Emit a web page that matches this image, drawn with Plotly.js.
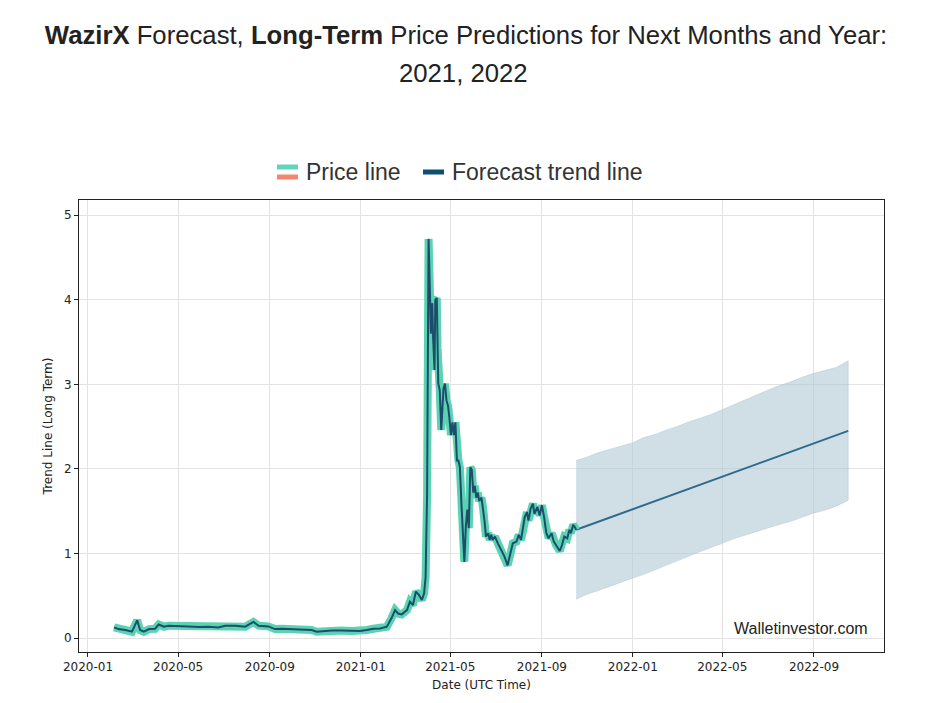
<!DOCTYPE html>
<html>
<head>
<meta charset="utf-8">
<script src="https://cdn.plot.ly/plotly-3.0.1.min.js"></script>
<style>
html,body{margin:0;padding:0;background:#fff;}
#chart{width:932px;height:703px;}
</style>
</head>
<body>
<div id="chart"></div>
<script>
// ---- Data ----
const priceDates = [
"2020-02-05","2020-02-11","2020-02-20","2020-02-29","2020-03-04","2020-03-07","2020-03-11","2020-03-16","2020-03-23","2020-03-31",
"2020-04-05","2020-04-12","2020-04-18","2020-05-02","2020-05-15","2020-05-29","2020-06-11","2020-06-24","2020-07-03","2020-07-17",
"2020-07-30","2020-08-10","2020-08-17","2020-08-30","2020-09-08","2020-09-17","2020-10-01","2020-10-14","2020-10-27","2020-11-03",
"2020-11-23","2020-12-06","2020-12-20","2020-12-31",
"2021-01-09","2021-01-18","2021-01-27","2021-02-05","2021-02-11","2021-02-16","2021-02-20","2021-02-25","2021-03-04","2021-03-08",
"2021-03-12","2021-03-16","2021-03-20","2021-03-24","2021-03-27","2021-03-29","2021-03-31","2021-04-02","2021-04-04","2021-04-05",
"2021-04-07","2021-04-08","2021-04-10","2021-04-11","2021-04-13","2021-04-14","2021-04-15","2021-04-17","2021-04-19","2021-04-22",
"2021-04-24","2021-04-26","2021-04-28","2021-04-30","2021-05-02","2021-05-04","2021-05-06","2021-05-08","2021-05-10","2021-05-12",
"2021-05-14","2021-05-16","2021-05-18","2021-05-20","2021-05-22","2021-05-24","2021-05-26","2021-05-28","2021-05-30","2021-06-01",
"2021-06-03","2021-06-05","2021-06-07","2021-06-09","2021-06-12","2021-06-14","2021-06-16","2021-06-18","2021-06-21","2021-06-23",
"2021-06-25","2021-06-27","2021-06-30","2021-07-04","2021-07-09","2021-07-13","2021-07-17","2021-07-21","2021-07-24","2021-07-29",
"2021-08-01","2021-08-04","2021-08-09","2021-08-12","2021-08-14","2021-08-17","2021-08-20","2021-08-22","2021-08-26","2021-08-29",
"2021-09-01","2021-09-04","2021-09-07","2021-09-10","2021-09-14","2021-09-17","2021-09-20","2021-09-25","2021-09-28","2021-10-01",
"2021-10-05","2021-10-08","2021-10-10","2021-10-13","2021-10-16","2021-10-17"
];
const priceValues = [
0.126,0.106,0.095,0.075,0.15,0.21,0.095,0.075,0.106,0.11,
0.16,0.134,0.146,0.146,0.138,0.13,0.134,0.126,0.146,0.146,
0.134,0.19,0.146,0.138,0.106,0.11,0.106,0.106,0.095,0.075,
0.09,0.09,0.083,0.083,
0.095,0.11,0.114,0.134,0.23,0.33,0.29,0.28,0.33,0.43,
0.39,0.55,0.51,0.45,0.53,0.72,1.7,4.72,4.03,3.6,
3.96,3.56,3.17,4.0,4.02,3.44,3.01,2.93,2.46,2.95,
3.01,2.81,2.75,2.6,2.4,2.55,2.4,2.55,2.1,2.1,
2.02,1.6,1.15,0.9,1.32,1.52,1.3,2.02,1.99,1.72,
1.8,1.66,1.72,1.62,1.66,1.55,1.39,1.2,1.24,1.16,
1.22,1.16,1.2,1.12,1.04,0.96,0.86,1.0,1.12,1.14,
1.22,1.16,1.43,1.49,1.39,1.53,1.59,1.47,1.55,1.45,
1.57,1.43,1.24,1.18,1.24,1.14,1.1,1.03,1.1,1.2,
1.18,1.28,1.24,1.34,1.30,1.28
];
const trendDates = ["2021-10-17","2022-10-17"];
const trendValues = [1.28, 2.45];
const bandDates = [
"2021-10-17","2021-11-01","2021-11-15","2021-12-01","2021-12-15","2022-01-01","2022-01-15","2022-02-01","2022-02-15","2022-03-01",
"2022-03-15","2022-04-01","2022-04-15","2022-05-01","2022-05-15","2022-06-01","2022-06-15","2022-07-01","2022-07-15","2022-08-01",
"2022-08-15","2022-09-01","2022-09-15","2022-10-01","2022-10-17"
];
const bandUpper = [2.10,2.14,2.19,2.23,2.27,2.31,2.37,2.41,2.46,2.50,2.55,2.60,2.64,2.70,2.75,2.82,2.87,2.93,2.98,3.03,3.08,3.13,3.16,3.20,3.28];
const bandLower = [0.46,0.52,0.56,0.61,0.66,0.71,0.75,0.81,0.86,0.91,0.96,1.02,1.07,1.12,1.17,1.22,1.26,1.30,1.34,1.38,1.43,1.48,1.51,1.56,1.63];
const yTicks = [0,1,2,3,4,5];
const legendLabels = ["Price line","Forecast trend line"];

// polygon of the band built from the arrays
const bandX = bandDates.concat(bandDates.slice().reverse());
const bandY = bandUpper.concat(bandLower.slice().reverse());

const traces = [
  {x: bandX, y: bandY, type:'scatter', mode:'lines', fill:'toself',
   fillcolor:'rgba(176,200,214,0.6)', line:{color:'rgba(160,185,200,0.6)', width:0.6},
   hoverinfo:'skip', showlegend:false},
  {x: trendDates, y: trendValues, type:'scatter', mode:'lines',
   line:{color:'#2f6b8c', width:2}, showlegend:false},
  {x: priceDates, y: priceValues, type:'scatter', mode:'lines',
   line:{color:'#5bd3b3', width:8, shape:'linear'}, showlegend:false},
  {x: priceDates, y: priceValues, type:'scatter', mode:'lines',
   line:{color:'#1c4d6b', width:2}, showlegend:false}
];

const L = 79, R = 884, T = 200, B = 652, W = 932, H = 703;
const px = v => (v - L) / (R - L);
const py = v => (B - v) / (B - T);

const tickFont = {family:'DejaVu Sans, sans-serif', size:12, color:'#222'};
const sansFont = 'Liberation Sans, Arial, sans-serif';

const layout = {
  width: W, height: H,
  margin: {l: L, r: W - R, t: T, b: H - B},
  paper_bgcolor:'#fff', plot_bgcolor:'#fff',
  title: {
    text: '<b>WazirX</b> Forecast, <b>Long-Term</b> Price Predictions for Next Months and Year:',
    font: {family:sansFont, size:25.7, color:'#222'},
    x: 0.5, xanchor:'center', xref:'container', y: 1 - 35/H, yanchor:'middle', yref:'container'
  },
  xaxis: {
    type:'date', range:['2019-12-20','2022-12-04'],
    tickformat:'%Y-%m', dtick:'M4', tick0:'2020-01-01',
    showgrid:true, gridcolor:'#e3e3e3', gridwidth:1,
    showline:true, linecolor:'#222', linewidth:1, mirror:true,
    ticks:'outside', ticklen:4, tickcolor:'#222', tickfont: tickFont,
    zeroline:false,
    title:{text:'Date (UTC Time)', font:tickFont, standoff:7}
  },
  yaxis: {
    range:[-0.165, 5.18], tickvals: yTicks,
    showgrid:true, gridcolor:'#e3e3e3', gridwidth:1,
    showline:true, linecolor:'#222', linewidth:1, mirror:true,
    ticks:'outside', ticklen:4, tickcolor:'#222', tickfont: tickFont,
    zeroline:false,
    title:{text:'Trend Line (Long Term)', font:tickFont, standoff:8}
  },
  shapes: [
    {type:'line', xref:'paper', yref:'paper', x0:px(277), x1:px(298), y0:py(167), y1:py(167), line:{color:'#5fd6b8', width:5}},
    {type:'line', xref:'paper', yref:'paper', x0:px(277), x1:px(298), y0:py(177), y1:py(177), line:{color:'#f3866d', width:5}},
    {type:'line', xref:'paper', yref:'paper', x0:px(423), x1:px(444), y0:py(172), y1:py(172), line:{color:'#0e4e73', width:5}}
  ],
  annotations: [
    {text:'2021, 2022', xref:'paper', yref:'paper', x:px(463), y:py(73), xanchor:'center', yanchor:'middle', showarrow:false,
     font:{family:sansFont, size:25.7, color:'#222'}},
    {text:legendLabels[0], xref:'paper', yref:'paper', x:px(304), y:py(172), xanchor:'left', yanchor:'middle', showarrow:false,
     font:{family:sansFont, size:23, color:'#333'}},
    {text:legendLabels[1], xref:'paper', yref:'paper', x:px(450), y:py(172), xanchor:'left', yanchor:'middle', showarrow:false,
     font:{family:sansFont, size:23, color:'#333'}},
    {text:'Walletinvestor.com', xref:'paper', yref:'paper', x:px(870), y:py(628), xanchor:'right', yanchor:'middle', showarrow:false,
     font:{family:sansFont, size:16, color:'#222'}}
  ]
};

Plotly.newPlot('chart', traces, layout, {displayModeBar:false, staticPlot:true});
</script>
</body>
</html>
